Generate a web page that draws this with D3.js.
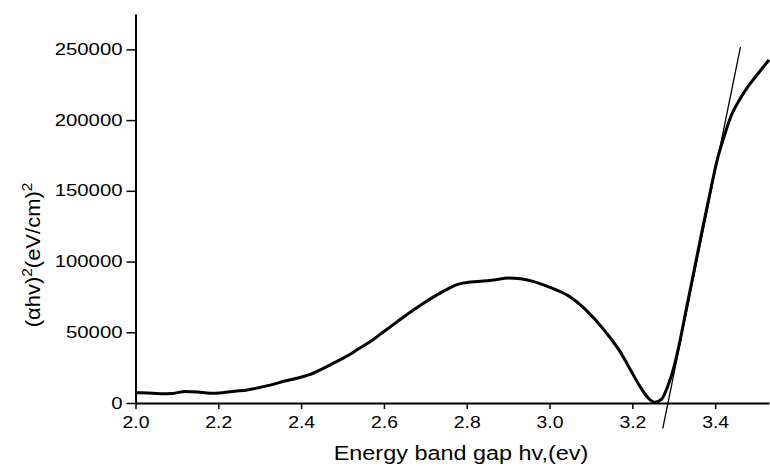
<!DOCTYPE html>
<html>
<head>
<meta charset="utf-8">
<script src="https://cdn.jsdelivr.net/npm/d3@7"></script>
<style>
  body { margin: 0; background: #fff; }
  svg { display: block; font-family: Arial, "Liberation Sans", sans-serif; }
</style>
</head>
<body>
<svg id="chart" width="770" height="466"></svg>
<script>
// photon energy (eV) and (alpha h nu)^2
const energy = [2.00, 2.03, 2.06, 2.09, 2.12, 2.15, 2.18, 2.21, 2.24, 2.27,
  2.30, 2.33, 2.36, 2.39, 2.42, 2.45, 2.48, 2.51, 2.54, 2.57,
  2.60, 2.63, 2.66, 2.69, 2.72, 2.75, 2.78, 2.81, 2.84, 2.87,
  2.90, 2.93, 2.96, 2.99, 3.02, 3.05, 3.08, 3.11, 3.14, 3.17,
  3.20, 3.22, 3.24, 3.255, 3.27, 3.285, 3.30, 3.315, 3.33, 3.35,
  3.37, 3.39, 3.405, 3.42, 3.44, 3.46, 3.48, 3.50, 3.53];
const absorb = [7300, 7000, 6600, 6800, 8200, 7800, 6900, 7300, 8300, 9200,
  11000, 13000, 15500, 17500, 20000, 24000, 28500, 33000, 38500, 44000,
  50500, 57000, 63500, 69500, 75000, 80000, 84000, 85500, 86200, 87200,
  88300, 87800, 86000, 83000, 79500, 75000, 68000, 59000, 48500, 36500,
  21000, 11000, 3000, 500, 2500, 11500, 25000, 44000, 66000, 95000,
  124000, 152000, 172000, 187000, 204000, 215000, 224000, 231500, 242600];

// extrapolated straight line used to find the gap
const tangentX = [3.2735, 3.461];
const tangentY = [-17900, 251600];

const xMajor = [2.0, 2.2, 2.4, 2.6, 2.8, 3.0, 3.2, 3.4];
const xMinor = [2.1, 2.3, 2.5, 2.7, 2.9, 3.1, 3.3, 3.5];
const yMajor = [0, 50000, 100000, 150000, 200000, 250000];
const yMinor = [25000, 75000, 125000, 175000, 225000];

const svg = d3.select("#chart");
const x = d3.scaleLinear().domain([2.0, 3.53]).range([135.5, 769]);
const y = d3.scaleLinear().domain([0, 275000]).range([403, 14]);

// the source image is stretched sideways, so widen glyphs a bit
function stretch(sel, k) {
  sel.each(function() {
    const w = this.getComputedTextLength();
    d3.select(this).attr("textLength", w * k).attr("lengthAdjust", "spacingAndGlyphs");
  });
}

const xAxis = svg.append("g").attr("transform", `translate(0,${y(0)})`);
xAxis.call(d3.axisBottom(x).tickValues(xMinor).tickSize(4).tickFormat("").tickSizeOuter(0));
xAxis.call(d3.axisBottom(x).tickValues(xMajor).tickSize(6).tickFormat(d3.format(".1f")).tickSizeOuter(0));

const yAxis = svg.append("g").attr("transform", `translate(${x(2.0)},0)`);
yAxis.call(d3.axisLeft(y).tickValues(yMinor).tickSize(5).tickFormat("").tickSizeOuter(0));
yAxis.call(d3.axisLeft(y).tickValues(yMajor).tickSize(9).tickPadding(4).tickFormat(d3.format("d")).tickSizeOuter(0));

svg.selectAll(".domain").attr("stroke", "#000").attr("stroke-width", 2);
svg.selectAll(".tick line").attr("stroke", "#000").attr("stroke-width", 1.5);

xAxis.selectAll("text")
  .attr("font-size", 17).attr("font-family", "Arial, 'Liberation Sans', sans-serif")
  .attr("fill", "#000").attr("y", 25).attr("dy", 0);
stretch(xAxis.selectAll("text"), 1.14);

yAxis.selectAll("text")
  .attr("font-size", 16).attr("font-family", "Arial, 'Liberation Sans', sans-serif")
  .attr("fill", "#000");
stretch(yAxis.selectAll("text"), 1.27);

// the tangent line
svg.append("line")
  .attr("x1", x(tangentX[0])).attr("y1", y(tangentY[0]))
  .attr("x2", x(tangentX[1])).attr("y2", y(tangentY[1]))
  .attr("stroke", "#000").attr("stroke-width", 1.3);

// the measured curve
const line = d3.line()
  .x((d, i) => x(energy[i]))
  .y(d => y(d))
  .curve(d3.curveMonotoneX);

svg.append("path")
  .datum(absorb)
  .attr("d", line)
  .attr("fill", "none")
  .attr("stroke", "#000")
  .attr("stroke-width", 3)
  .attr("stroke-linejoin", "round");

// axis titles
const xTitle = svg.append("text")
  .attr("x", 461).attr("y", 460)
  .attr("text-anchor", "middle")
  .attr("font-size", 20).attr("fill", "#000")
  .text("Energy band gap hv,(ev)");
stretch(xTitle, 1.17);

const yTitle = svg.append("text")
  .attr("transform", "translate(40,255) rotate(-90)")
  .attr("text-anchor", "middle")
  .attr("font-size", 20).attr("fill", "#000");
yTitle.append("tspan").text("(αhv)");
yTitle.append("tspan").attr("font-size", 14).attr("dy", -8).text("2");
yTitle.append("tspan").attr("dy", 8).text("(eV/cm)");
yTitle.append("tspan").attr("font-size", 14).attr("dy", -8).text("2");
stretch(yTitle, 1.1);
</script>
</body>
</html>
